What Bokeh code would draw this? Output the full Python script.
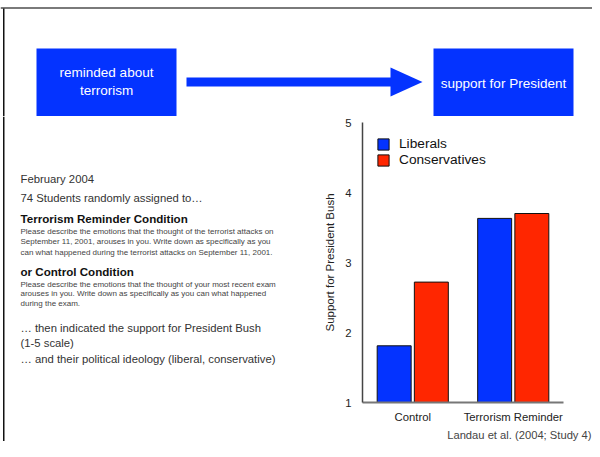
from bokeh.plotting import figure
from bokeh.layouts import column, row
from bokeh.models import (FactorRange, Range1d, FixedTicker, ColumnDataSource,
                          Legend, LegendItem, Title)
from bokeh.core.properties import value
from bokeh.transform import dodge
from bokeh.embed import file_html
from bokeh.resources import INLINE

# ---------------- data ----------------
categories = ["Control", "Terrorism Reminder"]
series = ["Liberals", "Conservatives"]
liberals = [1.81, 3.63]
conservatives = [2.72, 3.70]
y_ticks = [1, 2, 3, 4, 5]
y_title = "Support for President Bush"
source_note = "Landau et al. (2004; Study 4)"

BLUE = "#0433FF"
RED = "#FF2600"
FONT = "Liberation Sans"

# ---------------- overall layout (pixels) ----------------
W, H = 592, 441
BANNER_H = 116
LEFT_W = 320


def no_align(f):
    if "frame_align" in f.properties():
        f.frame_align = False
    return f


def blank(width, height, x0, x1, y0, y1):
    f = figure(width=width, height=height, x_range=Range1d(x0, x1), y_range=Range1d(y1, y0),
               output_backend="svg", toolbar_location=None,
               x_axis_location=None, y_axis_location=None,
               min_border=0, min_border_left=0, min_border_right=0,
               min_border_top=0, min_border_bottom=0)
    f.xgrid.visible = False
    f.ygrid.visible = False
    f.outline_line_color = None
    f.background_fill_color = "white"
    f.border_fill_color = "white"
    return no_align(f)


def txt(f, x, y, text, size, color, align="left", style="normal"):
    f.text(x=[x], y=[y], text=[text], text_font=value(FONT), text_font_size=value(size),
           text_font_style=style, text_color=color, text_align=align,
           text_baseline="middle")


# ---------------- banner ----------------
banner = blank(W, BANNER_H, 0, W, 0, BANNER_H)
banner.quad(left=[0], right=[W], top=[6.5], bottom=[8.5], fill_color="#7a7a7a", line_color=None)
banner.quad(left=[2.5], right=[4], top=[8], bottom=[BANNER_H], fill_color="#111111", line_color=None)
banner.quad(left=[36, 433], right=[176, 573], top=[48, 48], bottom=[116, 116],
            fill_color=BLUE, line_color=None)
banner.quad(left=[186], right=[391], top=[77], bottom=[86], fill_color=BLUE, line_color=None)
banner.patch(x=[390, 422, 390], y=[67, 81.5, 96], fill_color=BLUE, line_color=None)
txt(banner, 106, 72, "reminded about", "13.5px", "white", "center")
txt(banner, 106, 90, "terrorism", "13.5px", "white", "center")
txt(banner, 503, 83, "support for President", "13.5px", "white", "center")

# ---------------- left text column ----------------
left = blank(LEFT_W, H - BANNER_H, 0, LEFT_W, BANNER_H, H)
left.quad(left=[2.5], right=[4], top=[BANNER_H], bottom=[H], fill_color="#111111", line_color=None)
left_lines = [
    ("February 2004", 178, "11.3px", "normal", "#333333"),
    ("74 Students randomly assigned to\u2026", 197, "11.3px", "normal", "#333333"),
    ("Terrorism Reminder Condition", 218, "11.6px", "bold", "#111111"),
    ("Please describe the emotions that the thought of the terrorist attacks on", 231, "8px", "normal", "#444444"),
    ("September 11, 2001, arouses in you. Write down as specifically as you", 241, "8px", "normal", "#444444"),
    ("can what happened during the terrorist attacks on September 11, 2001.", 251.5, "8px", "normal", "#444444"),
    ("or Control Condition", 271, "11.6px", "bold", "#111111"),
    ("Please describe the emotions that the thought of your most recent exam", 283.5, "8px", "normal", "#444444"),
    ("arouses in you. Write down as specifically as you can what happened", 292.5, "8px", "normal", "#444444"),
    ("during the exam.", 303, "8px", "normal", "#444444"),
    ("\u2026 then indicated the support for President Bush", 327, "11.3px", "normal", "#333333"),
    ("(1-5 scale)", 342, "11.3px", "normal", "#333333"),
    ("\u2026 and their political ideology (liberal, conservative)", 358, "11.3px", "normal", "#333333"),
]
for t, yp, size, style, color in left_lines:
    txt(left, 20, yp, t, size, color, "left", style)

# ---------------- bar chart ----------------
CW = W - LEFT_W
CH = H - BANNER_H
p = figure(width=CW, height=CH,
           x_range=FactorRange(factors=categories, range_padding=0),
           y_range=Range1d(1, 5),
           output_backend="svg", toolbar_location=None,
           min_border_left=42, min_border_right=29,
           min_border_top=6, min_border_bottom=38)
no_align(p)
p.xgrid.visible = False
p.ygrid.visible = False
p.outline_line_color = None
p.background_fill_color = "white"
p.border_fill_color = "white"

ya = p.yaxis[0]
ya.ticker = FixedTicker(ticks=y_ticks)
ya.major_tick_in = 0
ya.major_tick_out = 0
ya.minor_tick_in = 0
ya.minor_tick_out = 0
ya.major_tick_line_color = None
ya.minor_tick_line_color = None
ya.axis_line_color = "#444444"
ya.axis_line_width = 1.5
ya.major_label_text_font = FONT
ya.major_label_text_font_size = "11.3px"
ya.major_label_text_color = "#222222"
ya.major_label_standoff = 11
ya.axis_label = y_title
ya.axis_label_text_font = FONT
ya.axis_label_text_font_style = "normal"
ya.axis_label_text_font_size = "11.5px"
ya.axis_label_text_color = "#222222"
ya.axis_label_standoff = 6

xa = p.xaxis[0]
xa.major_tick_in = 0
xa.major_tick_out = 0
xa.major_tick_line_color = None
xa.axis_line_color = "#777777"
xa.axis_line_width = 2
xa.major_label_text_font = FONT
xa.major_label_text_font_size = "11.3px"
xa.major_label_text_color = "#222222"
xa.major_label_standoff = 8

src = ColumnDataSource(dict(cat=categories, lib=liberals, con=conservatives))
r1 = p.vbar(x=dodge("cat", -0.185, range=p.x_range), top="lib", bottom=1, width=0.338,
            source=src, fill_color=BLUE, line_color="#111111", line_width=1)
r2 = p.vbar(x=dodge("cat", 0.185, range=p.x_range), top="con", bottom=1, width=0.338,
            source=src, fill_color=RED, line_color="#111111", line_width=1)

legend = Legend(items=[LegendItem(label=series[0], renderers=[r1]),
                       LegendItem(label=series[1], renderers=[r2])],
                location="top_left", margin=14, padding=0, spacing=1,
                glyph_width=14, glyph_height=14, label_height=14,
                label_standoff=9, label_text_font=FONT,
                label_text_font_size="13.7px", label_text_color="#111111",
                border_line_color=None, background_fill_alpha=0)
p.add_layout(legend)

p.add_layout(Title(text=source_note, align="right", offset=-28, standoff=2,
                   text_font=FONT, text_font_size="11.2px", text_font_style="normal",
                   text_color="#444444"), "below")

layout = column(banner, row(left, p))
open("out.html", "w").write(file_html(layout, INLINE))
